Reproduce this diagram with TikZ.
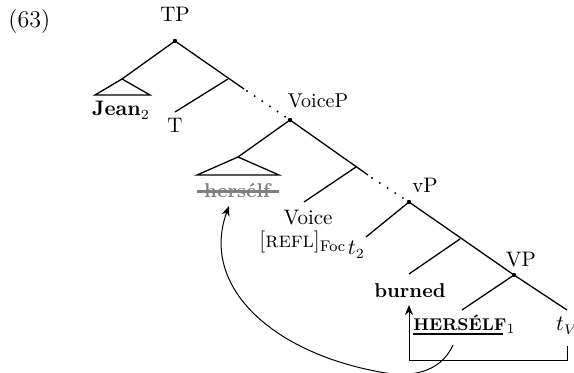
\documentclass[tikz,border=0pt]{standalone}
\usetikzlibrary{arrows.meta}
\begin{document}
\begin{tikzpicture}[x=0.5pt,y=-0.5pt,
  branch/.style={line width=0.65pt},
  dotline/.style={line width=1.1pt, line cap=round, dash pattern=on 0pt off 4.6pt},
  knot/.style={circle, fill, inner sep=0pt, minimum size=2.2pt},
  lbl/.style={inner sep=0pt, anchor=base},
  mv/.style={-{Stealth[length=5pt,width=4pt]}, line width=0.5pt}]
\useasboundingbox (0,0) rectangle (574,373);
% labels
\node[lbl, anchor=base west] (ex) at (8,28) {\fontsize{12}{14}\selectfont(63)};
\node[lbl] (tp) at (175,22) {\fontsize{10.5}{12}\selectfont TP};
\node[lbl] (jean) at (121,116) {\fontsize{10.5}{12}\selectfont\textbf{Jean}$_2$};
\node[lbl] (t) at (175,133) {\fontsize{10.5}{12}\selectfont T};
\node[lbl] (voicep) at (318,108) {VoiceP};
\node[lbl, text=gray] (hers) at (238,198) {\textbf{hers\'elf}};
\node[lbl] (voice) at (308,225) {\fontsize{10.5}{12}\selectfont Voice};
\node[lbl, anchor=base west] (refl) at (259,248) {\fontsize{11}{13}\selectfont[\textsc{refl}]\textsubscript{Foc}};
\node[lbl, anchor=base west] (ttwo) at ([xshift=0.5pt,yshift=-3.5pt]refl.base east) {\fontsize{10.5}{12}\selectfont$t_2$};
\node[lbl] (vp) at (425,193) {\fontsize{10.5}{12}\selectfont vP};
\node[lbl] (burned) at (410,298) {\textbf{burned}};
\node[lbl] (VP) at (521,267) {\fontsize{10.5}{12}\selectfont VP};
\node[lbl, anchor=base west] (HS) at (413,331) {{\fontsize{8.5}{10}\selectfont\bfseries HERS\'ELF}$_1$};
\node[lbl] (tv) at (567,331) {\fontsize{10.5}{12}\selectfont$t_V$};
% tree points
\node[knot] (tpd) at (175,41) {};
\coordinate (jtop) at (122,79);
\coordinate (jl) at (95,95);
\coordinate (jr) at (150,95);
\coordinate (a1) at (228,79);
\coordinate (a1e) at (244,89);
\coordinate (tend) at (175,112);
\node[knot] (vpd) at (290,120) {};
\coordinate (htop) at (238,157);
\coordinate (hl) at (197,175);
\coordinate (hr) at (279,175);
\coordinate (a2) at (356,167);
\coordinate (a2e) at (368,175);
\coordinate (vend) at (304,202);
\node[knot] (vpsd) at (409,202) {};
\coordinate (spec) at (366,237);
\coordinate (a3) at (460,239);
\coordinate (bend) at (409,274);
\node[knot] (VPd) at (514,275) {};
\coordinate (hend) at (462,310);
\coordinate (tvend) at (567,310);
% branches
\draw[branch] (tpd.center) -- (jtop);
\draw[branch] (jtop) -- (jl) -- (jr) -- cycle;
\draw[branch] (tpd.center) -- (a1e);
\draw[branch] (a1) -- (tend);
\draw[dotline] (a1e) ++(3,2) -- (vpd.center);
\draw[branch] (vpd.center) -- (htop);
\draw[branch] (htop) -- (hl) -- (hr) -- cycle;
\draw[branch] (vpd.center) -- (a2e);
\draw[branch] (a2) -- (vend);
\draw[dotline] (a2e) ++(4,3) -- (vpsd.center);
\draw[branch] (vpsd.center) -- (spec);
\draw[branch] (vpsd.center) -- (VPd.center);
\draw[branch] (a3) -- (bend);
\draw[branch] (VPd.center) -- (hend);
\draw[branch] (VPd.center) -- (tvend);
% strike and underline
\draw[gray, line width=1.5pt] (197,192) -- (279,192);
\draw[line width=1pt] (413,334) -- (503,334);
% movement arrows
\coordinate (tvb) at (567,346);
\coordinate (c1) at (567,361);
\coordinate (c2) at (409,361);
\draw[mv] (tvb) -- (c1) -- (c2) -- (409,305);
\coordinate (hsb) at (453,345);
\coordinate (low) at (380,372);
\coordinate (htip) at (229,206);
\draw[mv] (hsb) .. controls (440,374) and (408,378) .. (low)
  .. controls (270,352) and (200,285) .. (htip);
\end{tikzpicture}
\end{document}
